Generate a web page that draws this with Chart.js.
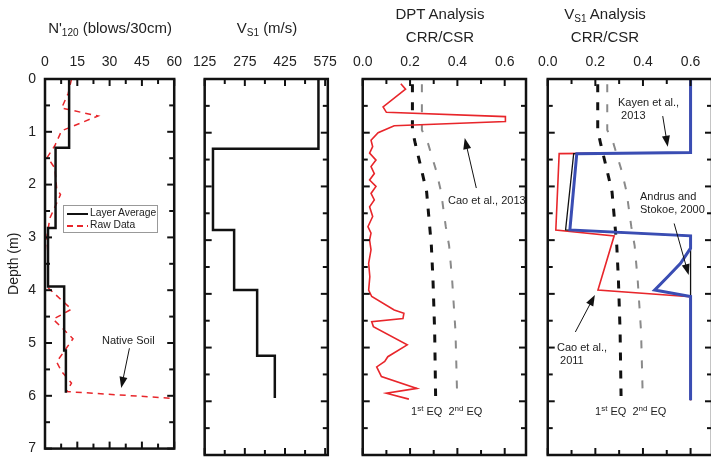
<!DOCTYPE html>
<html>
<head>
<meta charset="utf-8">
<script src="https://cdn.jsdelivr.net/npm/chart.js@4.4.1/dist/chart.umd.min.js"></script>
<style>
  body { margin:0; width:711px; height:466px; overflow:hidden; background:#fff; position:relative;
         font-family:"Liberation Sans", Arial, sans-serif; color:#222; }
  canvas { position:absolute; top:0; }
  .t { position:absolute; font-size:15px; white-space:nowrap; transform:translate(-50%,-50%); line-height:18px; }
  .n { position:absolute; font-size:11px; white-space:nowrap; line-height:13px; }
  sub { font-size:10px; vertical-align:-3px; line-height:0; }
  sup { font-size:8px; vertical-align:4px; line-height:0; }
  .legend { position:absolute; left:63px; top:205px; width:93px; height:26px; border:1px solid #999; background:#fff; }
  .legend div { position:absolute; left:26px; font-size:10.3px; line-height:12px; white-space:nowrap; }
  .legend span { position:absolute; left:3px; width:21px; height:2px; }
</style>
</head>
<body>
<canvas id="p1" width="190" height="466" style="left:0px"></canvas>
<canvas id="p2" width="160" height="466" style="left:185px"></canvas>
<canvas id="p3" width="195" height="466" style="left:345px"></canvas>
<canvas id="p4" width="200" height="466" style="left:530px"></canvas>

<div class="t" style="left:110px;top:28px">N'<sub>120</sub> (blows/30cm)</div>
<div class="t" style="left:267px;top:28px">V<sub>S1</sub> (m/s)</div>
<div class="t" style="left:440px;top:14px">DPT Analysis</div>
<div class="t" style="left:440px;top:37px">CRR/CSR</div>
<div class="t" style="left:605px;top:14px">V<sub>S1</sub> Analysis</div>
<div class="t" style="left:605px;top:37px">CRR/CSR</div>

<div class="legend">
  <span style="top:7px;background:#111"></span><div style="top:1px">Layer Average</div>
  <span style="top:19px;background:repeating-linear-gradient(to right,#e8262b 0 6px,transparent 6px 10px)"></span><div style="top:13px">Raw Data</div>
</div>
<div class="n" style="left:102px;top:334px">Native Soil</div>
<div class="n" style="left:448px;top:194px">Cao et al., 2013</div>
<div class="n" style="left:411px;top:405px">1<sup>st</sup> EQ&nbsp; 2<sup>nd</sup> EQ</div>
<div class="n" style="left:595px;top:405px">1<sup>st</sup> EQ&nbsp; 2<sup>nd</sup> EQ</div>
<div class="n" style="left:618px;top:96px">Kayen et al.,<br>&nbsp;2013</div>
<div class="n" style="left:640px;top:190px">Andrus and<br>Stokoe, 2000</div>
<div class="n" style="left:557px;top:341px">Cao et al.,<br>&nbsp;2011</div>

<script>
// depth axis (m)
const depthTicks = [0, 1, 2, 3, 4, 5, 6, 7];

// N'120 panel
const n120Ticks = [0, 15, 30, 45, 60];
const layerTops = [0, 1.3, 2.82, 3.93, 5.14];
const layerEnd = 5.94;
const n120Layer = [11.2, 4.9, 1.4, 8.9, 9.7];
const rawDepth = [0, 0.27, 0.55, 0.7, 0.98, 1.26, 1.48, 1.69, 2.07, 2.19, 2.63, 3.0, 3.37, 3.87, 3.93, 4.36, 4.55, 4.92, 5.36, 5.54, 5.76, 5.92, 6.05];
const rawN120 = [12.3, 10.8, 7.7, 24.6, 7.7, 4.6, 1.1, 4.6, 5.4, 7.2, 2.3, 0.8, 1.5, 1.5, 0.8, 12.3, 3.8, 13, 5.4, 7.7, 12.3, 10, 60];

// Vs1 panel
const vsTicks = [125, 275, 425, 575];
const vsTops = [0, 1.3, 2.81, 3.93, 5.15];
const vsEnd = 5.94;
const vs1 = [550, 156, 235, 321, 387];

// CRR/CSR panels
const crrTicks = [0, 0.2, 0.4, 0.6];
const csrDepth = [0.1, 0.95, 1.2, 1.7, 2.1, 2.75, 3.1, 3.75, 4.7, 5.9];
const csr1st = [0.21, 0.21, 0.222, 0.249, 0.27, 0.283, 0.29, 0.297, 0.304, 0.308];
const csr2nd = [0.25, 0.25, 0.276, 0.31, 0.331, 0.351, 0.365, 0.378, 0.392, 0.399];

const dptDepth = [0.09, 0.19, 0.52, 0.62, 0.70, 0.79, 0.87, 1.0, 1.14, 1.26, 1.38, 1.51, 1.63, 1.76, 1.88, 2.0, 2.13, 2.25, 2.38, 2.56, 2.75, 2.87, 3.0, 3.18, 3.43, 3.68, 3.93, 4.05, 4.3, 4.36, 4.46, 4.52, 4.61, 4.95, 5.17, 5.26, 5.36, 5.54, 5.76, 5.85, 5.96];
const dptCrr = [0.161, 0.181, 0.086, 0.10, 0.603, 0.603, 0.133, 0.065, 0.035, 0.042, 0.029, 0.056, 0.035, 0.049, 0.029, 0.056, 0.035, 0.049, 0.029, 0.042, 0.022, 0.035, 0.029, 0.035, 0.025, 0.03, 0.025, 0.038, 0.133, 0.174, 0.17, 0.038, 0.045, 0.188, 0.106, 0.093, 0.059, 0.079, 0.229, 0.10, 0.195];

const kayenDepth = [0, 1.37, 1.39, 2.81, 2.92, 3.15, 3.43, 3.68, 3.93, 4.05, 5.98];
const kayenCrr = [0.6, 0.6, 0.122, 0.093, 0.6, 0.6, 0.558, 0.504, 0.449, 0.6, 0.6];
const andrusDepth = [0, 1.37, 1.39, 2.81, 2.92, 5.98];
const andrusCrr = [0.6, 0.6, 0.109, 0.075, 0.6, 0.6];
const cao11Depth = [0, 1.37, 1.39, 2.81, 2.92, 3.93, 4.05, 4.05, 5.98];
const cao11Crr = [0.6, 0.6, 0.048, 0.034, 0.279, 0.211, 0.585, 0.6, 0.6];

const FONT = '"Liberation Sans", Arial, sans-serif';
const RED = '#e8262b';

function pts(xs, ys) {
    return xs.map((v, i) => ({ x: v, y: ys[i] }));
}

// corners of a layered (stepped) profile
function steps(tops, end, vals) {
    const out = [];
    vals.forEach((v, i) => {
        const bottom = i < tops.length - 1 ? tops[i + 1] : end;
        out.push({ x: v, y: tops[i] }, { x: v, y: bottom });
    });
    return out;
}

// frame with inward ticks on all four sides + annotation arrows
const framePlugin = {
    id: 'frame',
    afterDatasetsDraw(chart, args, opts) {
        const { ctx, chartArea: a, scales: { x, y } } = chart;
        ctx.save();
        ctx.strokeStyle = '#111';
        ctx.lineWidth = 2;
        const line = (x1, y1, x2, y2) => { ctx.beginPath(); ctx.moveTo(x1, y1); ctx.lineTo(x2, y2); ctx.stroke(); };
        const nx = Math.round((opts.xEnd - opts.xStart) / opts.xMinor);
        for (let i = 0; i <= nx; i++) {
            const px = x.getPixelForValue(opts.xStart + i * opts.xMinor);
            const len = i % 2 === 0 ? 7 : 5;
            line(px, a.top, px, a.top + len);
            line(px, a.bottom, px, a.bottom - len);
        }
        for (let i = 0; i <= 14; i++) {
            const py = y.getPixelForValue(i * 0.5);
            const len = i % 2 === 0 ? 7 : 5;
            line(a.left, py, a.left + len, py);
            line(a.right, py, a.right - len, py);
        }
        ctx.lineWidth = 2.5;
        ctx.strokeRect(a.left, a.top, a.right - a.left, a.bottom - a.top);

        (opts.arrows || []).forEach(ar => {
            const x1 = x.getPixelForValue(ar[0]), y1 = y.getPixelForValue(ar[1]);
            const x2 = x.getPixelForValue(ar[2]), y2 = y.getPixelForValue(ar[3]);
            const ang = Math.atan2(y2 - y1, x2 - x1);
            ctx.lineWidth = 1;
            line(x1, y1, x2 - 8 * Math.cos(ang), y2 - 8 * Math.sin(ang));
            ctx.fillStyle = '#111';
            ctx.beginPath();
            ctx.moveTo(x2, y2);
            ctx.lineTo(x2 - 11 * Math.cos(ang) + 4 * Math.sin(ang), y2 - 11 * Math.sin(ang) - 4 * Math.cos(ang));
            ctx.lineTo(x2 - 11 * Math.cos(ang) - 4 * Math.sin(ang), y2 - 11 * Math.sin(ang) + 4 * Math.cos(ang));
            ctx.closePath();
            ctx.fill();
        });
        ctx.restore();
    }
};

function makePanel(id, p) {
    return new Chart(document.getElementById(id), {
        type: 'scatter',
        data: { datasets: p.datasets },
        plugins: [framePlugin],
        options: {
            responsive: false,
            animation: false,
            devicePixelRatio: 1,
            layout: { padding: { top: 0, left: 0, right: p.padRight, bottom: 11 } },
            elements: { point: { radius: 0 }, line: { tension: 0 } },
            plugins: {
                legend: { display: false },
                tooltip: { enabled: false },
                frame: { xStart: p.min, xEnd: p.xEnd, xMinor: p.xMinor, arrows: p.arrows }
            },
            scales: {
                x: {
                    type: 'linear', position: 'top', min: p.min, max: p.max,
                    grid: { display: false, drawTicks: false },
                    border: { display: false },
                    afterBuildTicks: s => { s.ticks = p.ticks.map(v => ({ value: v })); },
                    afterFit: s => { s.height = 79; },
                    ticks: { font: { size: 14, family: FONT }, color: '#222', padding: 8, maxRotation: 0, autoSkip: false, callback: p.fmt }
                },
                y: {
                    type: 'linear', reverse: true, min: 0, max: 7,
                    grid: { display: false, drawTicks: false },
                    border: { display: false },
                    afterBuildTicks: s => { s.ticks = depthTicks.map(v => ({ value: v })); },
                    afterFit: s => { s.width = p.yWidth; },
                    ticks: { display: p.yLabels, font: { size: 14, family: FONT }, color: '#222', padding: 9 },
                    title: { display: p.yLabels, text: 'Depth (m)', font: { size: 14, family: FONT }, color: '#222', padding: { top: 6, bottom: 0 } }
                }
            }
        }
    });
}

const csrSets = () => [
    { data: pts(csr1st, csrDepth), showLine: true, borderColor: '#111', borderWidth: 3, borderDash: [8, 10] },
    { data: pts(csr2nd, csrDepth), showLine: true, borderColor: '#8a8a8a', borderWidth: 2, borderDash: [8, 12] }
];

makePanel('p1', {
    min: 0, max: 60, xEnd: 60, xMinor: 7.5, ticks: n120Ticks, fmt: v => v,
    yLabels: true, yWidth: 45, padRight: 15,
    arrows: [[39.2, 5.1, 35.4, 5.85]],
    datasets: [
        { data: steps(layerTops, layerEnd, n120Layer), showLine: true, borderColor: '#111', borderWidth: 2.5 },
        { data: pts(rawN120, rawDepth), showLine: true, borderColor: RED, borderWidth: 1.5, borderDash: [6, 5] }
    ]
});

makePanel('p2', {
    min: 125, max: 585, xEnd: 575, xMinor: 75, ticks: vsTicks, fmt: v => v,
    yLabels: false, yWidth: 16, padRight: 12,
    datasets: [
        { data: steps(vsTops, vsEnd, vs1), showLine: true, borderColor: '#111', borderWidth: 2.5 }
    ]
});

makePanel('p3', {
    min: 0, max: 0.69, xEnd: 0.6, xMinor: 0.1, ticks: crrTicks, fmt: v => v.toFixed(1),
    yLabels: false, yWidth: 12, padRight: 14,
    arrows: [[0.48, 2.03, 0.431, 1.1]],
    datasets: [
        { data: pts(dptCrr, dptDepth), showLine: true, borderColor: RED, borderWidth: 1.6 },
        ...csrSets()
    ]
});

makePanel('p4', {
    min: 0, max: 0.69, xEnd: 0.6, xMinor: 0.1, ticks: crrTicks, fmt: v => v.toFixed(1),
    yLabels: false, yWidth: 13, padRight: 18,
    arrows: [[0.483, 0.69, 0.504, 1.26], [0.531, 2.69, 0.592, 3.65], [0.116, 4.71, 0.198, 4.02]],
    datasets: [
        { data: pts(kayenCrr, kayenDepth), showLine: true, borderColor: '#3a4db3', borderWidth: 3 },
        { data: pts(andrusCrr, andrusDepth), showLine: true, borderColor: '#111', borderWidth: 1.3 },
        { data: pts(cao11Crr, cao11Depth), showLine: true, borderColor: RED, borderWidth: 1.6 },
        ...csrSets()
    ]
});
</script>
</body>
</html>
